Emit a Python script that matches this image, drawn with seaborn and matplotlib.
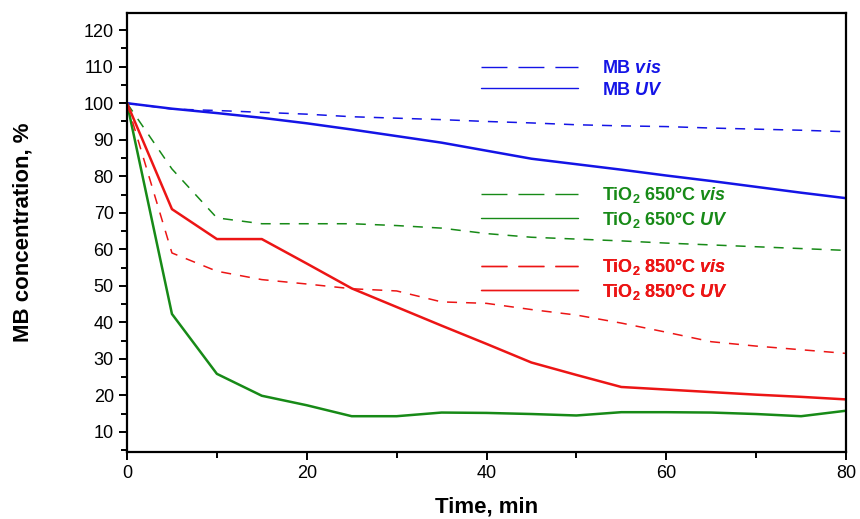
import matplotlib
matplotlib.use("Agg")
import matplotlib.pyplot as plt
from matplotlib.lines import Line2D
import seaborn as sns
import numpy as np

time_min = [0, 5, 10, 15, 20, 25, 30, 35, 40, 45, 50, 55, 60, 65, 70, 75, 80]
mb_vis = [100, 98.4, 98, 97.5, 97, 96.3, 95.9, 95.5, 95, 94.6, 94.1, 93.8, 93.6, 93.2, 92.9, 92.6, 92.2]
mb_uv = [100, 98.5, 97.3, 96, 94.5, 92.8, 91, 89.2, 87, 84.8, 83.3, 81.8, 80.2, 78.7, 77.1, 75.5, 74]
tio2_650_vis = [100, 82, 68.6, 67, 67, 67, 66.5, 65.8, 64.3, 63.3, 62.8, 62.3, 61.7, 61.2, 60.7, 60.2, 59.7]
tio2_650_uv = [100, 42.3, 25.9, 19.9, 17.3, 14.3, 14.3, 15.3, 15.2, 14.9, 14.5, 15.4, 15.4, 15.3, 14.9, 14.3, 15.8]
tio2_850_vis = [100, 59, 54, 51.7, 50.5, 49.2, 48.6, 45.6, 45.2, 43.5, 42, 39.8, 37.3, 34.7, 33.5, 32.5, 31.5]
tio2_850_uv = [100, 71, 62.8, 62.8, 56.1, 49.3, 44.2, 39.1, 34.1, 29, 25.6, 22.3, 21.6, 20.9, 20.2, 19.6, 18.9]

x_ticks = [0, 20, 40, 60, 80]
y_ticks = [10, 20, 30, 40, 50, 60, 70, 80, 90, 100, 110, 120]

BLUE = "#1414e6"
GREEN = "#178a17"
RED = "#ec1515"

sns.set_style("ticks")
plt.rcParams["font.family"] = ["Liberation Sans", "DejaVu Sans"]
plt.rcParams["text.color"] = "black"
plt.rcParams["axes.labelcolor"] = "black"
plt.rcParams["xtick.color"] = "black"
plt.rcParams["ytick.color"] = "black"
plt.rcParams["mathtext.fontset"] = "custom"
plt.rcParams["mathtext.rm"] = "Liberation Sans:bold"
plt.rcParams["mathtext.bf"] = "Liberation Sans:bold"
plt.rcParams["mathtext.it"] = "Liberation Sans:italic:bold"
plt.rcParams["lines.scale_dashes"] = False

fig = plt.figure(figsize=(8.6, 5.19), dpi=100)
ax = fig.add_axes([127 / 860, 1 - 452 / 519, (846 - 127) / 860, (452 - 13) / 519])

series = [
    (mb_vis, BLUE, "dash"),
    (mb_uv, BLUE, "solid"),
    (tio2_650_vis, GREEN, "dash"),
    (tio2_650_uv, GREEN, "solid"),
    (tio2_850_vis, RED, "dash"),
    (tio2_850_uv, RED, "solid"),
]
for vals, col, style in series:
    lw = 1.1 if style == "dash" else 1.8
    sns.lineplot(x=time_min, y=vals, ax=ax, color=col, linewidth=lw)
    line = ax.get_lines()[-1]
    if style == "dash":
        line.set_dashes((7.2, 6.5))

ax.set_xlim(0, 80)
ax.set_ylim(4.5, 124.7)
ax.set_xticks(x_ticks)
ax.set_xticks([10, 30, 50, 70], minor=True)
ax.set_yticks(y_ticks)
ax.set_yticks([5, 15, 25, 35, 45, 55, 65, 75, 85, 95, 105, 115], minor=True)
ax.tick_params(axis="both", which="major", direction="out", length=6, width=1.4,
               labelsize=13, colors="black")
ax.tick_params(axis="both", which="minor", direction="out", length=4, width=1.4)
for sp in ax.spines.values():
    sp.set_visible(True)
    sp.set_linewidth(1.6)
    sp.set_color("black")

ax.set_xlabel("Time, min", fontsize=16, fontweight="bold", color="black")
ax.xaxis.set_label_coords(0.5, -0.125)
ax.xaxis.label.set_va("center")
ax.set_ylabel("MB concentration, %", fontsize=16, fontweight="bold", color="black")
ax.yaxis.set_label_coords(-0.145, 0.5)
ax.yaxis.label.set_va("center")

def make_legend(labels, colors, anchor):
    handles = [
        Line2D([], [], color=colors, linewidth=1.0, dashes=(18.7, 7.9)),
        Line2D([], [], color=colors, linewidth=1.0),
    ]
    leg = ax.legend(handles, labels, loc="center left", bbox_to_anchor=anchor,
                    frameon=False, handlelength=5.4, handletextpad=1.3,
                    labelspacing=0.25, borderpad=0, borderaxespad=0,
                    prop={"weight": "bold", "size": 13})
    for t in leg.get_texts():
        t.set_color(colors)
    ax.add_artist(leg)
    return leg

make_legend([r"MB $\mathit{vis}$", r"MB $\mathit{UV}$"], BLUE, (0.492, 0.849))
make_legend([r"TiO$_2$ 650°C $\mathit{vis}$", r"TiO$_2$ 650°C $\mathit{UV}$"], GREEN, (0.492, 0.557))
make_legend([r"TiO$_2$ 850°C $\mathit{vis}$", r"TiO$_2$ 850°C $\mathit{UV}$"], RED, (0.492, 0.393))

fig.savefig("out.png", dpi=100)
